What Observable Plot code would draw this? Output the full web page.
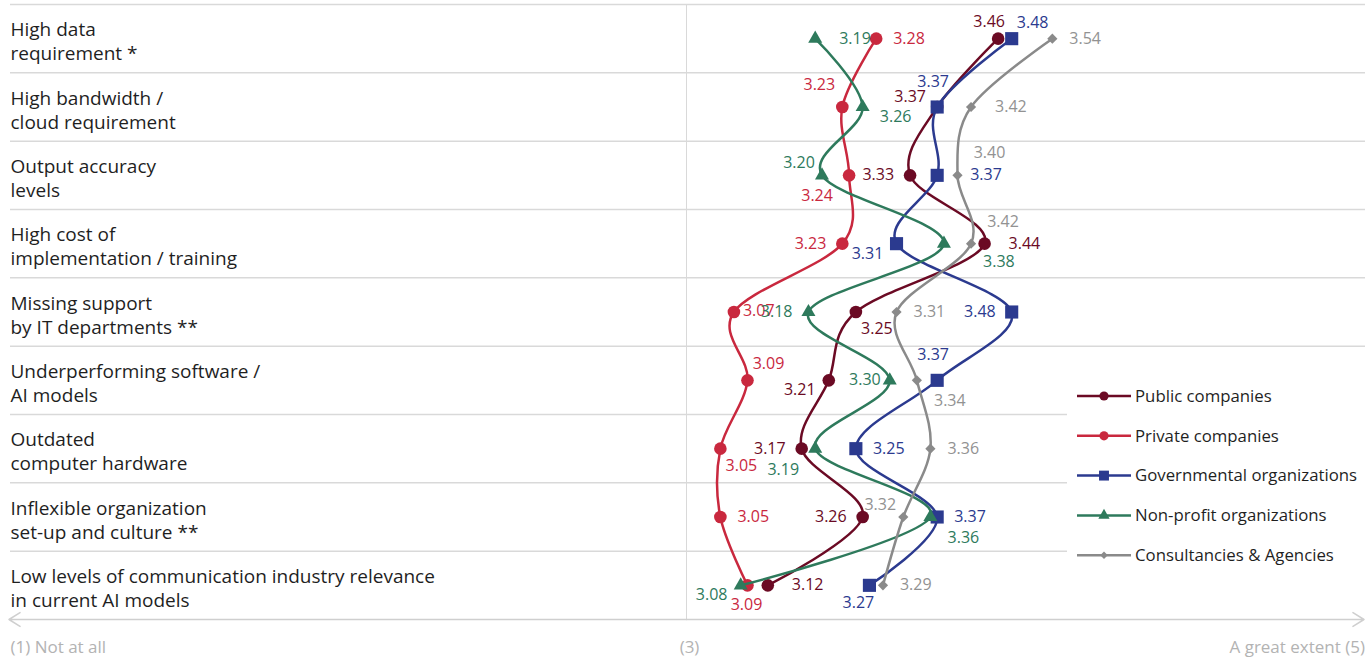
<!DOCTYPE html>
<html><head><meta charset="utf-8">
<script src="https://cdn.jsdelivr.net/npm/d3@7"></script>
<script src="https://cdn.jsdelivr.net/npm/@observablehq/plot@0.6"></script>
<style>
body{margin:0;background:#fff;font-family:"Open Sans",sans-serif;}
#wrap{position:relative;width:1369px;height:659px;overflow:hidden}
#legend{position:absolute;left:1067px;top:376px;width:302px;height:200px;background:#fff}
</style></head><body>
<div id="wrap"><div id="chart"></div><div id="legend"></div></div>
<script>
const categories = [
  "High data\nrequirement *",
  "High bandwidth /\ncloud requirement",
  "Output accuracy\nlevels",
  "High cost of\nimplementation / training",
  "Missing support\nby IT departments **",
  "Underperforming software /\nAI models",
  "Outdated\ncomputer hardware",
  "Inflexible organization\nset-up and culture **",
  "Low levels of communication industry relevance\nin current AI models"
];
const seriesNames = ["Public companies","Private companies","Governmental organizations","Non-profit organizations","Consultancies & Agencies"];
const publicCompanies = [3.46,3.37,3.33,3.44,3.25,3.21,3.17,3.26,3.12];
const privateCompanies = [3.28,3.23,3.24,3.23,3.07,3.09,3.05,3.05,3.09];
const governmental = [3.48,3.37,3.37,3.31,3.48,3.37,3.25,3.37,3.27];
const nonProfit = [3.19,3.26,3.20,3.38,3.18,3.30,3.19,3.36,3.08];
const consultancies = [3.54,3.42,3.40,3.42,3.31,3.34,3.36,3.32,3.29];
const axisLabels = ["(1) Not at all","(3)","A great extent (5)"];

// label side codes (relative placement of value labels)
const labelSide = [
  ["as","al3","l","rr","brs","bl","l","l","rr"],
  ["r","al2","bl2","l","rs","ar","brs","r","b"],
  ["ar","a","r2","bl","l","a","r","r","bs"],
  ["rr","bru","al","br2","l","ls","bl2","br","bl"],
  ["r","rr","ar2","ar2","r","br","r","al","r"]
];

const colors = ["#6b0a24","#c9283e","#2b3a8f","#2e7a5c","#8a8a8a"];
const labelColors = ["#6b0a24","#c9283e","#2b3a8f","#2e7a5c","#929292"];
const symbols = ["circle","circle","square","triangle","diamond2"];
const radii = [6.3,6.3,7.4,5.2,4.6];
const values = [publicCompanies, privateCompanies, governmental, nonProfit, consultancies];

const rows = [];
values.forEach((arr, s) => arr.forEach((v, i) => rows.push({series: seriesNames[s], s, i, value: v, side: labelSide[s][i]})));

const sides = {
  r: {dx: 17, dy: 0, textAnchor: "start"},
  rr: {dx: 24, dy: 0, textAnchor: "start"},
  r2: {dx: 33, dy: 0, textAnchor: "start"},
  rs: {dx: 9, dy: -1, textAnchor: "start"},
  l: {dx: -16, dy: 0, textAnchor: "end"},
  ls: {dx: -9, dy: 0, textAnchor: "end"},
  a: {dx: -4, dy: -25, textAnchor: "middle"},
  as: {dx: -9, dy: -17, textAnchor: "middle"},
  b: {dx: -1, dy: 20, textAnchor: "middle"},
  bs: {dx: -11, dy: 18, textAnchor: "middle"},
  ar: {dx: 21, dy: -16, textAnchor: "middle"},
  ar2: {dx: 32, dy: -22, textAnchor: "middle"},
  al: {dx: -23, dy: -12, textAnchor: "middle"},
  al2: {dx: -23, dy: -22, textAnchor: "middle"},
  al3: {dx: -27, dy: -10, textAnchor: "middle"},
  br: {dx: 33, dy: 21, textAnchor: "middle"},
  bru: {dx: 33, dy: 10, textAnchor: "middle"},
  brs: {dx: 21, dy: 17, textAnchor: "middle"},
  br2: {dx: 55, dy: 18, textAnchor: "middle"},
  bl: {dx: -29, dy: 10, textAnchor: "middle"},
  bl2: {dx: -32, dy: 21, textAnchor: "middle"}
};

const marks = [];
// grid
marks.push(Plot.ruleY(d3.range(categories.length), {y: d => d - 0.5, stroke: "#d9d9d9", strokeWidth: 1.5}));
marks.push(Plot.ruleX([3], {y1: () => -0.5, y2: () => categories.length - 0.5, stroke: "#d9d9d9", strokeWidth: 1}));
// axis arrows
marks.push(Plot.arrow([0], {x1: () => 3, x2: () => 2, y1: () => categories.length - 0.5, y2: () => categories.length - 0.5, stroke: "#cfcfcf", strokeWidth: 1.5, headLength: 13, headAngle: 64}));
marks.push(Plot.arrow([0], {x1: () => 3, x2: () => 4, y1: () => categories.length - 0.5, y2: () => categories.length - 0.5, stroke: "#cfcfcf", strokeWidth: 1.5, headLength: 13, headAngle: 64}));
// axis labels
marks.push(Plot.text([axisLabels[0]], {x: () => 2, frameAnchor: "bottom", dy: 33, textAnchor: "start", dx: 1.5, fill: "#b3b3b3", fontSize: 17}));
marks.push(Plot.text([axisLabels[1]], {x: () => 3, frameAnchor: "bottom", dy: 33, textAnchor: "middle", dx: 3, fill: "#b3b3b3", fontSize: 17}));
marks.push(Plot.text([axisLabels[2]], {x: () => 4, frameAnchor: "bottom", dy: 33, textAnchor: "end", dx: 1, fill: "#b3b3b3", fontSize: 17}));
// category labels
marks.push(Plot.text(categories, {x: () => 2, y: (d, i) => i, text: d => d, textAnchor: "start", dx: 1.5, dy: 2, fontSize: 19, lineHeight: 1.26, fill: "#1f1f1f"}));
// series
values.forEach((arr, s) => {
  const data = rows.filter(d => d.s === s);
  marks.push(Plot.line(data, {x: "value", y: "i", stroke: colors[s], strokeWidth: 2.5, curve: "cardinal", tension: 0}));
  marks.push(Plot.dot(data, {x: "value", y: "i", symbol: symbols[s], r: radii[s], fill: colors[s], stroke: "none"}));
});
// value labels
Object.entries(sides).forEach(([code, opt]) => {
  const data = rows.filter(d => d.side === code);
  if (!data.length) return;
  marks.push(Plot.text(data, {x: "value", y: "i", text: d => d.value.toFixed(2), fill: d => labelColors[d.s], fontSize: 16, ...opt}));
});

const chart = Plot.plot({
  width: 1369, height: 659,
  marginLeft: 10, marginRight: 4, marginTop: 4, marginBottom: 40,
  style: {fontFamily: "'Open Sans', sans-serif", background: "#fff"},
  x: {domain: [2, 4], range: [8.5, 1363.5], axis: null},
  y: {domain: [-0.5, categories.length - 0.5], range: [4, 619], axis: null},
  marks
});
document.getElementById("chart").appendChild(chart);

// legend
const lg = d3.select("#legend").append("svg").attr("width", 302).attr("height", 200)
  .style("font-family", "'Open Sans', sans-serif");
const legendSym = ["circle","circle","square","triangle","diamond2"];
const legendSize = [4.6, 4.6, 5.6, 4.2, 3.4];
const symMap = {circle: d3.symbolCircle, square: d3.symbolSquare, triangle: d3.symbolTriangle, diamond2: d3.symbolDiamond2};
seriesNames.forEach((name, s) => {
  const y = 20 + s * 39.8;
  const g = lg.append("g").attr("transform", `translate(0,${y})`);
  g.append("line").attr("x1", 10).attr("x2", 64).attr("y1", 0).attr("y2", 0).attr("stroke", colors[s]).attr("stroke-width", 2.5);
  g.append("path").attr("transform", "translate(37,0)").attr("d", d3.symbol(symMap[legendSym[s]], Math.PI * legendSize[s] ** 2)()).attr("fill", colors[s]);
  g.append("text").attr("x", 68).attr("y", 0).attr("dy", "0.35em").attr("font-size", 16.8).attr("fill", "#1f1f1f").text(name);
});
</script>
</body></html>
